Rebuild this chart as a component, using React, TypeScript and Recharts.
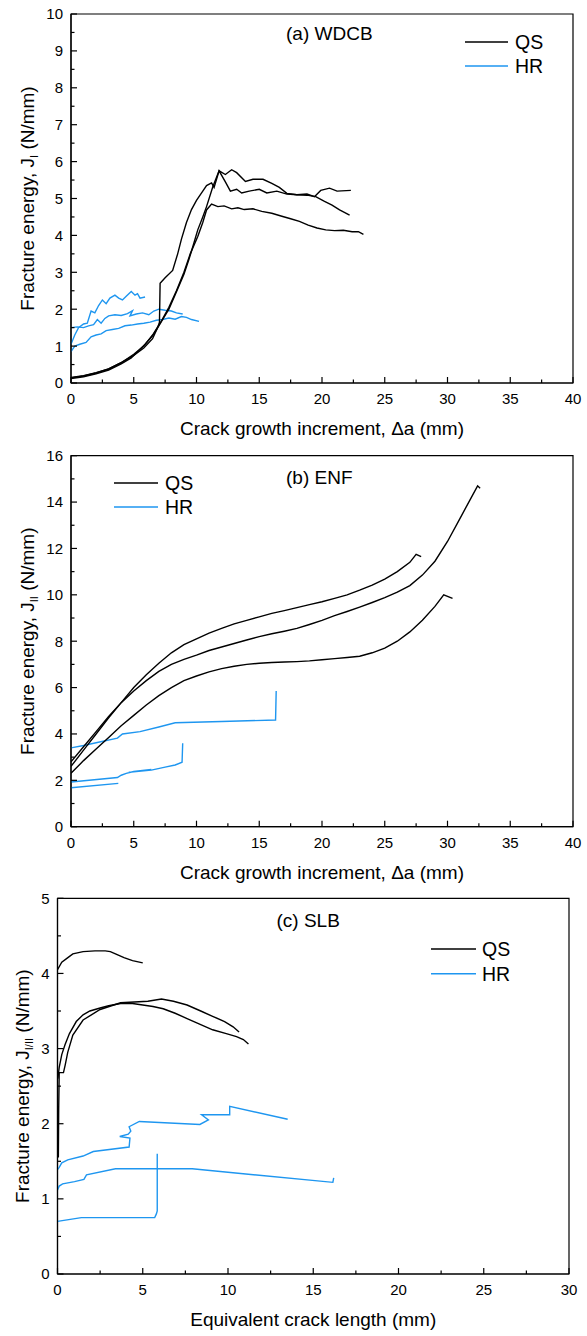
import React from 'react';
import { LineChart, Line, XAxis, YAxis, ReferenceArea, Legend } from 'recharts';

const FONT = '"Liberation Sans", Arial, Helvetica, sans-serif';
const BLACK = '#000000';
const BLUE = '#1E96F0';

type Pt = [number, number];

// ---------- (a) WDCB ----------
const wdcbQs1: Pt[] = [[0,0.15],[1,0.2],[2,0.28],[3,0.38],[4,0.55],[5,0.75],[5.8,0.95],[6.5,1.2],[6.9,1.5],[7.05,1.65],[7.1,2.7],[7.5,2.85],[8.1,3.05],[8.5,3.5],[8.8,3.9],[9.2,4.35],[9.6,4.7],[10.0,4.95],[10.5,5.2],[10.8,5.35],[11.2,5.42],[11.4,5.3],[11.8,5.75],[12.3,5.45],[12.7,5.2],[13.2,5.25],[13.6,5.15],[14.2,5.2],[15.0,5.25],[15.6,5.15],[16.4,5.2],[17.2,5.12],[18.0,5.1],[18.8,5.12],[19.4,5.05],[19.9,5.22],[20.6,5.28],[21.2,5.2],[22.3,5.22]];
const wdcbQs2: Pt[] = [[0,0.12],[1,0.17],[2,0.25],[3,0.35],[4,0.52],[4.8,0.68],[5.9,1.05],[6.5,1.28],[7.0,1.55],[7.8,2.0],[8.5,2.55],[9.0,2.95],[9.4,3.35],[9.8,3.8],[10.1,4.15],[10.5,4.5],[10.8,4.78],[11.3,5.32],[11.8,5.75],[12.3,5.65],[12.8,5.78],[13.2,5.7],[13.9,5.46],[14.5,5.52],[15.3,5.52],[16.0,5.41],[16.6,5.3],[17.2,5.14],[18.0,5.1],[18.8,5.09],[19.5,5.05],[20.2,4.92],[20.8,4.82],[21.4,4.69],[22.2,4.55]];
const wdcbQs3: Pt[] = [[0,0.14],[1,0.19],[2,0.27],[3,0.38],[4,0.55],[5,0.78],[5.8,1.0],[6.5,1.3],[7.2,1.68],[7.8,2.05],[8.4,2.5],[9.0,3.0],[9.5,3.5],[10.1,3.97],[10.5,4.35],[10.8,4.69],[11.2,4.85],[11.7,4.78],[12.2,4.8],[12.8,4.72],[13.3,4.75],[13.8,4.7],[14.5,4.72],[15.2,4.65],[16.0,4.6],[16.8,4.52],[17.5,4.45],[18.2,4.38],[18.9,4.28],[19.6,4.2],[20.3,4.15],[21.0,4.13],[21.7,4.14],[22.4,4.1],[22.9,4.1],[23.3,4.03]];
const wdcbHr1: Pt[] = [[0,1.05],[0.3,1.3],[0.6,1.5],[1.0,1.6],[1.3,1.62],[1.6,1.95],[1.9,1.9],[2.2,2.1],[2.5,2.25],[2.8,2.15],[3.1,2.3],[3.5,2.38],[3.8,2.3],[4.1,2.25],[4.4,2.35],[4.8,2.48],[5.1,2.38],[5.3,2.42],[5.5,2.3],[5.9,2.33]];
const wdcbHr2: Pt[] = [[0,1.5],[0.5,1.52],[1.0,1.5],[1.4,1.55],[1.8,1.58],[2.1,1.72],[2.4,1.62],[2.7,1.75],[3.0,1.82],[3.5,1.85],[4.0,1.83],[4.5,1.88],[4.9,1.96],[4.7,1.82],[5.2,1.87],[5.7,1.9],[6.2,1.85],[6.6,1.95],[7.0,2.0],[7.5,1.97],[8.0,1.95],[8.4,1.9],[8.9,1.87]];
const wdcbHr3: Pt[] = [[0,0.85],[0.3,1.0],[0.7,1.05],[1.2,1.1],[1.6,1.25],[2.0,1.3],[2.4,1.33],[2.8,1.42],[3.3,1.45],[3.8,1.48],[4.3,1.55],[4.8,1.57],[5.3,1.6],[5.8,1.62],[6.3,1.65],[6.8,1.7],[7.3,1.72],[7.8,1.76],[8.3,1.73],[8.8,1.8],[9.2,1.78],[9.6,1.72],[10.2,1.67]];

// ---------- (b) ENF ----------
const enfQs1: Pt[] = [[0,2.6],[1,3.3],[2,4.0],[3,4.7],[4,5.35],[5,6.0],[6,6.55],[7,7.05],[8,7.5],[9,7.85],[10,8.1],[11,8.35],[12,8.55],[13,8.75],[14,8.9],[15,9.05],[16,9.2],[17,9.32],[18,9.45],[19,9.58],[20,9.7],[21,9.85],[22,10.0],[23,10.2],[24,10.42],[25,10.68],[26,11.0],[27,11.4],[27.5,11.75],[27.9,11.65]];
const enfQs2: Pt[] = [[0,2.8],[1,3.45],[2,4.1],[3,4.75],[4,5.35],[5,5.85],[6,6.3],[7,6.7],[8,7.0],[9,7.22],[10,7.4],[11,7.6],[12,7.75],[13,7.9],[14,8.05],[15,8.2],[16,8.32],[17,8.43],[18,8.55],[19,8.72],[20,8.9],[21,9.1],[22,9.28],[23,9.47],[24,9.67],[25,9.88],[26,10.12],[27,10.4],[28,10.85],[29,11.45],[30,12.3],[31,13.3],[32,14.3],[32.4,14.7],[32.6,14.6]];
const enfQs3: Pt[] = [[0,2.3],[1,2.85],[2,3.35],[3,3.85],[4,4.35],[5,4.8],[6,5.25],[7,5.65],[8,6.0],[9,6.3],[10,6.5],[11,6.68],[12,6.82],[13,6.92],[14,7.0],[15,7.05],[16,7.08],[17,7.1],[18,7.12],[19,7.15],[20,7.2],[21,7.25],[22,7.3],[23,7.35],[24,7.5],[25,7.7],[26,8.0],[27,8.4],[28,8.9],[29,9.5],[29.7,10.0],[30.4,9.85]];
const enfHr1: Pt[] = [[0,3.4],[1,3.5],[2,3.62],[3.7,3.82],[4.1,4.0],[5.5,4.1],[7.0,4.3],[8.3,4.48],[12,4.54],[16.3,4.6],[16.35,5.85]];
const enfHr2: Pt[] = [[0,1.93],[3.7,2.12],[4.0,2.22],[4.4,2.3],[5.0,2.38],[6.4,2.47],[4.6,2.35],[6.4,2.44],[7.5,2.57],[8.3,2.66],[8.85,2.78],[8.9,3.6]];
const enfHr3: Pt[] = [[0,1.68],[3.77,1.87]];

// ---------- (c) SLB ----------
const slbQs1: Pt[] = [[0,4.05],[0.25,4.15],[0.55,4.2],[0.9,4.26],[1.5,4.29],[2.2,4.3],[2.8,4.3],[3.1,4.29],[3.5,4.25],[3.9,4.21],[4.4,4.17],[5.0,4.14]];
const slbQs2: Pt[] = [[0.02,2.6],[0.1,2.75],[0.25,2.92],[0.44,3.05],[0.7,3.2],[1.1,3.36],[1.5,3.45],[1.9,3.5],[2.5,3.54],[3.0,3.57],[3.7,3.6],[4.4,3.6],[5.0,3.58],[5.6,3.56],[6.2,3.53],[6.9,3.47],[7.6,3.4],[8.4,3.32],[9.1,3.25],[9.9,3.2],[10.5,3.16],[10.9,3.12],[11.2,3.06]];
const slbQs3: Pt[] = [[0.05,1.55],[0.07,2.2],[0.1,2.68],[0.35,2.68],[0.45,2.78],[0.6,2.95],[0.9,3.18],[1.5,3.38],[2.5,3.52],[3.7,3.61],[4.5,3.62],[5.3,3.63],[6.1,3.66],[6.8,3.63],[7.6,3.58],[8.4,3.5],[9.1,3.43],[9.8,3.36],[10.3,3.29],[10.65,3.22]];
const slbHr1: Pt[] = [[0,1.39],[0.1,1.42],[0.25,1.48],[0.6,1.52],[1.5,1.57],[2.1,1.63],[4.2,1.69],[4.25,1.81],[3.65,1.83],[4.15,1.86],[4.3,1.9],[4.2,1.96],[4.8,2.03],[8.35,1.99],[8.85,2.05],[8.45,2.12],[10.1,2.12],[10.1,2.23],[13.5,2.06]];
const slbHr2: Pt[] = [[0,1.12],[0.1,1.17],[0.3,1.2],[1.0,1.23],[1.55,1.26],[1.7,1.32],[3.4,1.4],[7.9,1.4],[16.15,1.22],[16.2,1.28]];
const slbHr3: Pt[] = [[0,0.7],[1.4,0.75],[5.7,0.75],[5.8,0.8],[5.85,0.84],[5.85,1.6]];

// ---------- ticks ----------
const xMajor40 = [0, 5, 10, 15, 20, 25, 30, 35, 40];
const xMinor40 = [2.5, 7.5, 12.5, 17.5, 22.5, 27.5, 32.5, 37.5];
const xMajor30 = [0, 5, 10, 15, 20, 25, 30];
const xMinor30 = [2.5, 7.5, 12.5, 17.5, 22.5, 27.5];
const yMajorA = [0, 1, 2, 3, 4, 5, 6, 7, 8, 9, 10];
const yMinorA = [0.5, 1.5, 2.5, 3.5, 4.5, 5.5, 6.5, 7.5, 8.5, 9.5];
const yMajorB = [0, 2, 4, 6, 8, 10, 12, 14, 16];
const yMinorB = [1, 3, 5, 7, 9, 11, 13, 15];
const yMajorC = [0, 1, 2, 3, 4, 5];
const yMinorC = [0.5, 1.5, 2.5, 3.5, 4.5];

const rows = (pts: Pt[]) => pts.map(([x, y]) => ({ x, y }));
const isIn = (arr: number[], v: number) => arr.some((m) => Math.abs(m - v) < 1e-9);

function XTick(props: any) {
  const { x, y, payload, majors } = props;
  const v = payload.value;
  const major = isIn(majors, v);
  return (
    <g>
      <line x1={x} x2={x} y1={y} y2={y - (major ? 6 : 3.5)} stroke={BLACK} strokeWidth={1.2} />
      {major && (
        <text x={x} y={y + 21} textAnchor="middle" fontSize={15} fill={BLACK} fontFamily={FONT}>
          {v}
        </text>
      )}
    </g>
  );
}

function YTick(props: any) {
  const { x, y, payload, majors } = props;
  const v = payload.value;
  const major = isIn(majors, v);
  return (
    <g>
      <line x1={x} x2={x + (major ? 6 : 3.5)} y1={y} y2={y} stroke={BLACK} strokeWidth={1.2} />
      {major && (
        <text x={x - 8} y={y + 5.4} textAnchor="end" fontSize={15} fill={BLACK} fontFamily={FONT}>
          {v}
        </text>
      )}
    </g>
  );
}

function LegendBox({ textX, gap, lineLen }: { textX: number; gap: number; lineLen: number }) {
  return (
    <svg width={110} height={60} style={{ display: 'block', overflow: 'visible' }}>
      <line x1={0} x2={lineLen} y1={12} y2={12} stroke={BLACK} strokeWidth={1.5} />
      <text x={textX} y={19} fontSize={19.5} fontFamily={FONT} fill={BLACK}>QS</text>
      <line x1={0} x2={lineLen} y1={12 + gap} y2={12 + gap} stroke={BLUE} strokeWidth={1.5} />
      <text x={textX} y={19 + gap} fontSize={19.5} fontFamily={FONT} fill={BLACK}>HR</text>
    </svg>
  );
}

type PanelProps = {
  top: number;
  height: number;
  mTop: number;
  mRight: number;
  yWidth: number;
  xHeight: number;
  xMax: number;
  yMax: number;
  xMajor: number[];
  xMinor: number[];
  yMajor: number[];
  yMinor: number[];
  qs: Pt[][];
  hr: Pt[][];
  title: string;
  titleDx: number;
  titleDy: number;
  xLabel: string;
  ySub: string;
  yLabelX: number;
  legendLeft: number;
  legendTop: number;
  legendTextX: number;
  legendGap: number;
  legendLine: number;
};

function Panel(p: PanelProps) {
  const xTicks = [...p.xMajor, ...p.xMinor].sort((a, b) => a - b);
  const yTicks = [...p.yMajor, ...p.yMinor].sort((a, b) => a - b);
  return (
    <div style={{ position: 'absolute', left: 0, top: p.top, width: 587, height: p.height }}>
      <LineChart width={587} height={p.height} margin={{ top: p.mTop, right: p.mRight, bottom: 0, left: 0 }}>
        <XAxis
          dataKey="x"
          type="number"
          domain={[0, p.xMax]}
          ticks={xTicks}
          interval={0}
          allowDataOverflow
          height={p.xHeight}
          tickSize={0}
          tickMargin={0}
          tickLine={false}
          axisLine={{ stroke: BLACK, strokeWidth: 1.2 }}
          tick={<XTick majors={p.xMajor} />}
          label={{
            content: (lp: any) => {
              const vb = lp.viewBox || {};
              return (
                <text x={vb.x + vb.width / 2} y={vb.y + 52} textAnchor="middle" fontSize={19} fontFamily={FONT} fill={BLACK}>
                  {p.xLabel}
                </text>
              );
            },
          }}
        />
        <YAxis
          type="number"
          domain={[0, p.yMax]}
          ticks={yTicks}
          interval={0}
          allowDataOverflow
          width={p.yWidth}
          tickSize={0}
          tickMargin={0}
          tickLine={false}
          axisLine={{ stroke: BLACK, strokeWidth: 1.2 }}
          tick={<YTick majors={p.yMajor} />}
          label={{
            content: (lp: any) => {
              const vb = lp.viewBox || {};
              const cy = vb.y + vb.height / 2;
              const lx = p.yLabelX;
              return (
                <text
                  x={lx}
                  y={cy}
                  transform={`rotate(-90 ${lx} ${cy})`}
                  textAnchor="middle"
                  fontSize={19}
                  fontFamily={FONT}
                  fill={BLACK}
                >
                  <tspan>Fracture energy, J</tspan>
                  <tspan dy={4} fontSize={11}>{p.ySub}</tspan>
                  <tspan dy={-4}>{' (N/mm)'}</tspan>
                </text>
              );
            },
          }}
        />
        <ReferenceArea
          x1={0}
          x2={p.xMax}
          y1={0}
          y2={p.yMax}
          fill="none"
          fillOpacity={0}
          stroke={BLACK}
          strokeWidth={1.2}
          ifOverflow="visible"
          label={{
            content: (lp: any) => {
              const vb = lp.viewBox || {};
              return (
                <text x={vb.x + p.titleDx} y={vb.y + p.titleDy} fontSize={19} fontFamily={FONT} fill={BLACK}>
                  {p.title}
                </text>
              );
            },
          }}
        />
        {p.hr.map((s, i) => (
          <Line
            key={'hr' + i}
            data={rows(s)}
            dataKey="y"
            type="linear"
            stroke={BLUE}
            strokeWidth={1.4}
            dot={false}
            activeDot={false}
            isAnimationActive={false}
            legendType="none"
          />
        ))}
        {p.qs.map((s, i) => (
          <Line
            key={'qs' + i}
            data={rows(s)}
            dataKey="y"
            type="linear"
            stroke={BLACK}
            strokeWidth={1.4}
            dot={false}
            activeDot={false}
            isAnimationActive={false}
            legendType="none"
          />
        ))}
        <Legend
          layout="vertical"
          align="center"
          verticalAlign="middle"
          wrapperStyle={{ left: p.legendLeft, top: p.legendTop, width: 110, height: 60 }}
          content={() => <LegendBox textX={p.legendTextX} gap={p.legendGap} lineLen={p.legendLine} />}
        />
      </LineChart>
    </div>
  );
}

export default function App() {
  return (
    <div style={{ position: 'absolute', left: 0, top: 0, width: 587, height: 1336, background: '#fff', fontFamily: FONT }}>
      <Panel
        top={0}
        height={445}
        mTop={14}
        mRight={14}
        yWidth={71}
        xHeight={62}
        xMax={40}
        yMax={10}
        xMajor={xMajor40}
        xMinor={xMinor40}
        yMajor={yMajorA}
        yMinor={yMinorA}
        qs={[wdcbQs1, wdcbQs2, wdcbQs3]}
        hr={[wdcbHr1, wdcbHr2, wdcbHr3]}
        title="(a) WDCB"
        titleDx={215}
        titleDy={26}
        xLabel="Crack growth increment, Δa (mm)"
        ySub="I"
        yLabelX={34}
        legendLeft={465}
        legendTop={30}
        legendTextX={50}
        legendGap={24}
        legendLine={43}
      />
      <Panel
        top={440}
        height={445}
        mTop={15.7}
        mRight={14}
        yWidth={71}
        xHeight={58.3}
        xMax={40}
        yMax={16}
        xMajor={xMajor40}
        xMinor={xMinor40}
        yMajor={yMajorB}
        yMinor={yMinorB}
        qs={[enfQs1, enfQs2, enfQs3]}
        hr={[enfHr1, enfHr2, enfHr3]}
        title="(b) ENF"
        titleDx={215}
        titleDy={28}
        xLabel="Crack growth increment, Δa (mm)"
        ySub="II"
        yLabelX={34}
        legendLeft={114}
        legendTop={30.7}
        legendTextX={51}
        legendGap={24}
        legendLine={44}
      />
      <Panel
        top={880}
        height={456}
        mTop={18.3}
        mRight={18}
        yWidth={57.5}
        xHeight={62}
        xMax={30}
        yMax={5}
        xMajor={xMajor30}
        xMinor={xMinor30}
        yMajor={yMajorC}
        yMinor={yMinorC}
        qs={[slbQs1, slbQs2, slbQs3]}
        hr={[slbHr1, slbHr2, slbHr3]}
        title="(c) SLB"
        titleDx={219}
        titleDy={28.5}
        xLabel="Equivalent crack length (mm)"
        ySub="I/II"
        yLabelX={29.5}
        legendLeft={431}
        legendTop={57.3}
        legendTextX={51}
        legendGap={24.7}
        legendLine={45}
      />
    </div>
  );
}
